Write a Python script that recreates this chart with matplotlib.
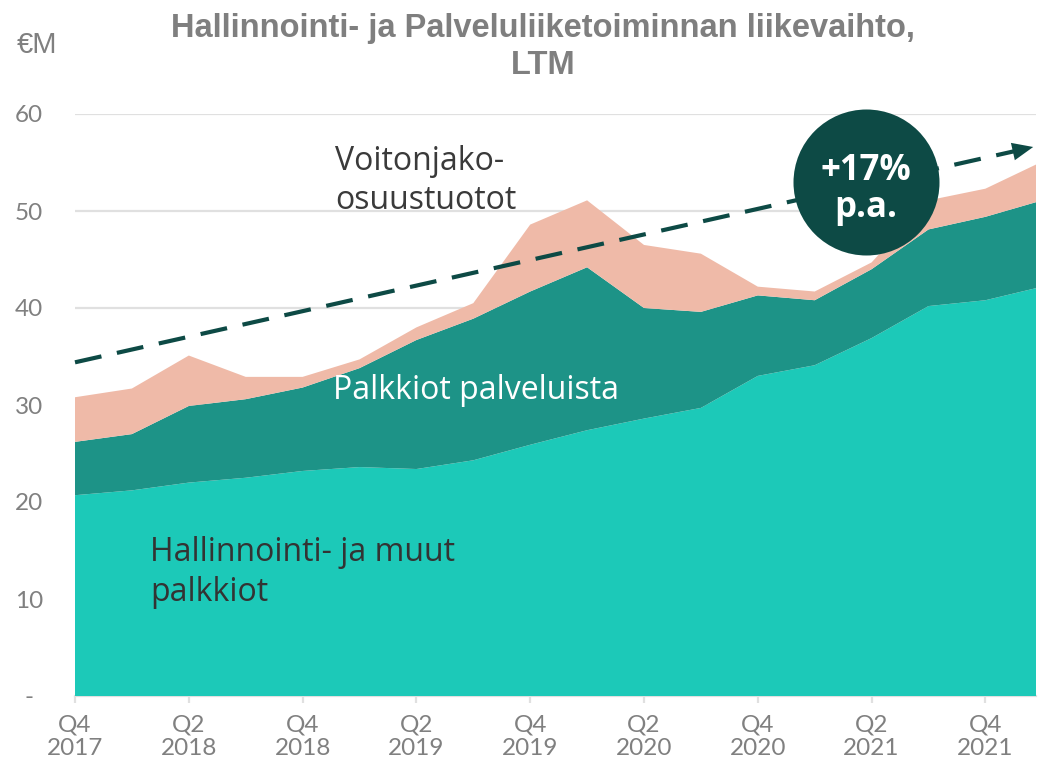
import matplotlib
matplotlib.use('Agg')
import matplotlib.pyplot as plt
import numpy as np

# ---------------- data ----------------
quarters = ['Q4 2017', 'Q1 2018', 'Q2 2018', 'Q3 2018', 'Q4 2018', 'Q1 2019',
            'Q2 2019', 'Q3 2019', 'Q4 2019', 'Q1 2020', 'Q2 2020', 'Q3 2020',
            'Q4 2020', 'Q1 2021', 'Q2 2021', 'Q3 2021', 'Q4 2021', 'Q1 2022']
hallinnointi = [20.7, 21.2, 22.0, 22.5, 23.2, 23.6, 23.4, 24.3, 25.9, 27.4,
                28.6, 29.7, 33.0, 34.1, 36.9, 40.2, 40.8, 42.2]
palkkiot = [5.5, 5.8, 7.9, 8.1, 8.6, 10.2, 13.3, 14.6, 15.8, 16.8,
            11.4, 9.9, 8.3, 6.7, 7.1, 7.9, 8.6, 8.9]
voitonjako = [4.6, 4.7, 5.2, 2.3, 1.1, 0.9, 1.3, 1.6, 6.9, 6.9,
              6.5, 6.0, 0.9, 0.9, 0.7, 3.0, 2.9, 4.0]
trend_start = 34.4
trend_end = 56.6
growth_label = '+17%'
yticks = [0, 10, 20, 30, 40, 50, 60]
ytick_labels = ['-', '10', '20', '30', '40', '50', '60']

# ---------------- style ----------------
C_BOTTOM = '#1CC9B8'
C_MID = '#1D9387'
C_PINK = '#EFBAA8'
C_DARK = '#0D4A45'
C_GRAY = '#808080'
C_GRID = '#E0E0E0'
FONT = ['Lato', 'DejaVu Sans']
LABEL_FONT = ['Open Sans', 'DejaVu Sans']
TITLE_FONT = ['Liberation Sans Narrow', 'Liberation Sans', 'DejaVu Sans']

W, H = 1038, 771
fig = plt.figure(figsize=(W / 100, H / 100), dpi=100)
x0_px, x1_px = 75, 1036
y0_px, y60_px = 696, 114
step_px = 56.9
ax = fig.add_axes([x0_px / W, 1 - y0_px / H, (x1_px - x0_px) / W, (y0_px - y60_px) / H])

x = np.arange(len(quarters))
ax.stackplot(x, hallinnointi, palkkiot, voitonjako,
             colors=[C_BOTTOM, C_MID, C_PINK], linewidth=0, zorder=2)

ax.set_xlim(0, (x1_px - x0_px) / step_px)
ax.set_ylim(0, 60)

# grid
ax.set_axisbelow(True)
for yv in yticks[1:]:
    ax.axhline(yv, color=C_GRID, lw=1.6, zorder=1)

for s in ['top', 'right', 'left']:
    ax.spines[s].set_visible(False)
ax.spines['bottom'].set_color(C_GRID)
ax.spines['bottom'].set_linewidth(1.6)
ax.spines['bottom'].set_zorder(1)

ax.set_yticks(yticks)
ax.set_yticklabels(ytick_labels, family=FONT, fontsize=17.5, color=C_GRAY, ha='center')
ax.tick_params(axis='y', length=0, pad=33)

xt = x[::2]
ax.set_xticks(xt)
ax.set_xticklabels([q.replace(' ', '\n') for q in quarters[::2]],
                   family=FONT, fontsize=17.5, color=C_GRAY, linespacing=1.15)
ax.tick_params(axis='x', length=5, width=1.6, color=C_GRID, pad=8, direction='out')

# trend arrow
tip_x = 16.84
ax.plot([0, tip_x - 0.25], [trend_start, trend_start + (trend_end - trend_start) * (tip_x - 0.25) / tip_x],
        color=C_DARK, lw=3.0, linestyle=(0, (6.5, 3.8)), zorder=5, clip_on=False,
        solid_capstyle='butt', dash_capstyle='butt')
ax.annotate('', xy=(tip_x, trend_end),
            xytext=(tip_x - 0.3, trend_end - (trend_end - trend_start) * 0.3 / tip_x),
            arrowprops=dict(arrowstyle='-|>,head_length=0.75,head_width=0.32',
                            color=C_DARK, lw=0, mutation_scale=20,
                            shrinkA=0, shrinkB=0),
            zorder=6, annotation_clip=False)

# circle badge
cx = (866 - x0_px) / step_px
cy = (y0_px - 182) / 9.7
ax.scatter([cx], [cy], s=(146 * 0.72) ** 2, color=C_DARK, zorder=7, clip_on=False, linewidths=0)
ax.text(cx, (y0_px - 180) / 9.7, growth_label, ha='center', va='baseline',
        family=['Open Sans', 'DejaVu Sans'], fontweight='bold', fontsize=25,
        color='white', zorder=8)
ax.text(cx, (y0_px - 217) / 9.7, 'p.a.', ha='center', va='baseline',
        family=['Open Sans', 'DejaVu Sans'], fontweight='bold', fontsize=25,
        color='white', zorder=8)

# series labels (figure pixel positions)
def ftext(px, py, s, color, **kw):
    fig.text(px / W, 1 - py / H, s, color=color, family=LABEL_FONT, fontsize=23,
             ha='left', va='baseline', **kw)

ftext(335, 170, 'Voitonjako-', '#3A3A3A')
ftext(335, 209, 'osuustuotot', '#3A3A3A')
ftext(333, 399, 'Palkkiot palveluista', 'white')
ftext(150, 561, 'Hallinnointi- ja muut', '#333333')
ftext(150, 601, 'palkkiot', '#333333')

# title
fig.text(543 / W, 1 - 37 / H, 'Hallinnointi- ja Palveluliiketoiminnan liikevaihto,',
         ha='center', va='baseline', family=TITLE_FONT, fontweight='bold',
         fontsize=23.5, color='#7F7F7F')
fig.text(543 / W, 1 - 74 / H, 'LTM', ha='center', va='baseline', family=TITLE_FONT,
         fontweight='bold', fontsize=23.5, color='#7F7F7F')
fig.text(17 / W, 1 - 53 / H, '€M', ha='left', va='baseline', family=TITLE_FONT,
         fontsize=21, color=C_GRAY)

fig.savefig('out.png', dpi=100)
